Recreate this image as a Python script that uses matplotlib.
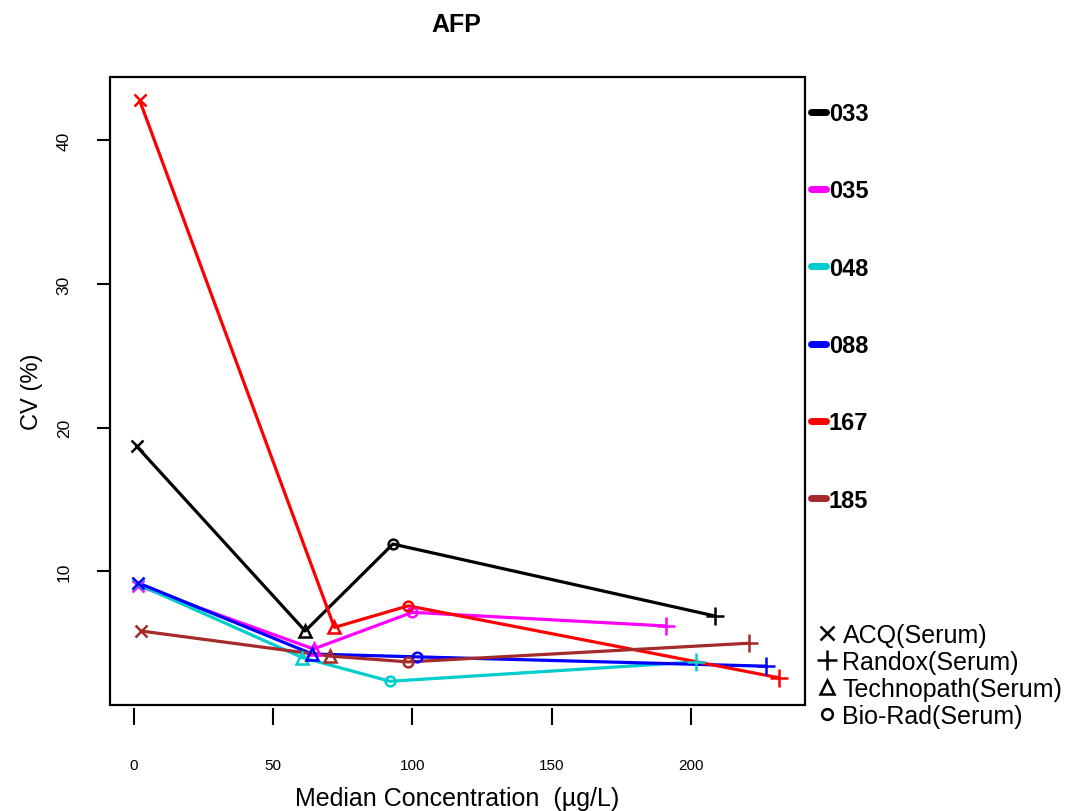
import matplotlib
matplotlib.use("Agg")
import matplotlib.pyplot as plt
from matplotlib.lines import Line2D
from matplotlib.patches import Rectangle

plt.rcParams['font.family'] = ['Liberation Sans', 'DejaVu Sans']

# ---- data ----
labs = ['033', '035', '048', '088', '167', '185']
colors = ['#000000', '#FF00FF', '#00CDCD', '#0000FF', '#FF0000', '#A52A2A']
materials = ['ACQ(Serum)', 'Randox(Serum)', 'Technopath(Serum)', 'Bio-Rad(Serum)']
# point order along each line: ACQ, Technopath, Bio-Rad, Randox
point_material = ['ACQ(Serum)', 'Technopath(Serum)', 'Bio-Rad(Serum)', 'Randox(Serum)']
marker_of = {'ACQ(Serum)': 'x', 'Randox(Serum)': '+', 'Technopath(Serum)': '^', 'Bio-Rad(Serum)': 'o'}
msize_of = {'ACQ(Serum)': 9, 'Randox(Serum)': 13, 'Technopath(Serum)': 9, 'Bio-Rad(Serum)': 7}

conc_033 = [1.0, 61.5, 93.0, 208.5]
cv_033 = [18.7, 5.85, 11.9, 6.9]
conc_035 = [1.5, 64.5, 100.0, 191.0]
cv_035 = [9.0, 4.6, 7.15, 6.2]
conc_048 = [1.5, 60.5, 92.0, 202.0]
cv_048 = [9.1, 4.0, 2.35, 3.7]
conc_088 = [1.5, 64.0, 101.5, 227.0]
cv_088 = [9.2, 4.25, 4.05, 3.4]
conc_167 = [2.0, 72.0, 98.5, 231.5]
cv_167 = [42.8, 6.1, 7.6, 2.6]
conc_185 = [2.5, 70.5, 98.5, 221.0]
cv_185 = [5.85, 4.1, 3.7, 5.0]

concs = [conc_033, conc_035, conc_048, conc_088, conc_167, conc_185]
cvs = [cv_033, cv_035, cv_048, cv_088, cv_167, cv_185]

xticks = [0, 50, 100, 150, 200]
yticks = [10, 20, 30, 40]

# ---- figure ----
W, H = 1066, 812
fig = plt.figure(figsize=(W / 100, H / 100), dpi=100)
L, R, T, B = 110, 805, 78, 706
ax = fig.add_axes([L / W, 1 - B / H, (R - L) / W, (B - T) / H])

for c, v, col in zip(concs, cvs, colors):
    ax.plot(c, v, color=col, lw=2.3, solid_capstyle='round', zorder=2)
    for xi, yi, m in zip(c, v, point_material):
        ax.plot([xi], [yi], linestyle='none', marker=marker_of[m], markersize=msize_of[m],
                markerfacecolor='none', markeredgecolor=col, markeredgewidth=1.8, zorder=3)

ax.set_xlim(-8.6, 241)
ax.set_ylim(0.7, 44.4)

for s in ax.spines.values():
    s.set_visible(False)
ax.add_patch(Rectangle((0, 0), 1, 1, transform=ax.transAxes, fill=False,
                       edgecolor='black', lw=1.6, clip_on=False, zorder=5))
ax.spines['bottom'].set_position(('outward', 2))
ax.spines['left'].set_position(('outward', 0))

ax.set_xticks(xticks)
ax.set_xticklabels([str(t) for t in xticks])
ax.set_yticks(yticks)
ax.set_yticklabels([str(t) for t in yticks], rotation=90, va='center')
ax.tick_params(axis='x', length=12, width=1.5, pad=24, labelsize=11)
ax.tick_params(axis='y', length=9.5, width=1.5, pad=18, labelsize=12.5)

ax.set_xlabel('Median Concentration  (\u00b5g/L)', fontsize=18, labelpad=10)
ax.set_ylabel('CV (%)', fontsize=17, labelpad=10)
fig.text(456 / W, 1 - 25 / H, 'AFP', ha='center', va='center', fontsize=18, fontweight='bold')

# color legend
col_handles = [Line2D([0], [0], color=col, lw=5, solid_capstyle='round') for col in colors]
leg1 = fig.legend(col_handles, labs, loc='upper left',
                  bbox_to_anchor=(811 / W, 1 - 103 / H), frameon=False,
                  prop={'size': 17, 'weight': 'bold'}, handlelength=0.65,
                  handletextpad=0.1, labelspacing=2.3, borderpad=0, borderaxespad=0)

# material legend
mat_handles = [Line2D([0], [0], linestyle='none', marker=marker_of[m], markersize=msize_of[m] * 1.1,
                      markerfacecolor='none', markeredgecolor='black', markeredgewidth=1.8)
               for m in materials]
leg2 = fig.legend(mat_handles, materials, loc='upper left',
                  bbox_to_anchor=(815 / W, 1 - 624 / H), frameon=False,
                  prop={'size': 18}, handlelength=0.95, handletextpad=0.15,
                  labelspacing=0.12, borderpad=0, borderaxespad=0)

fig.savefig('out.png', dpi=100)
